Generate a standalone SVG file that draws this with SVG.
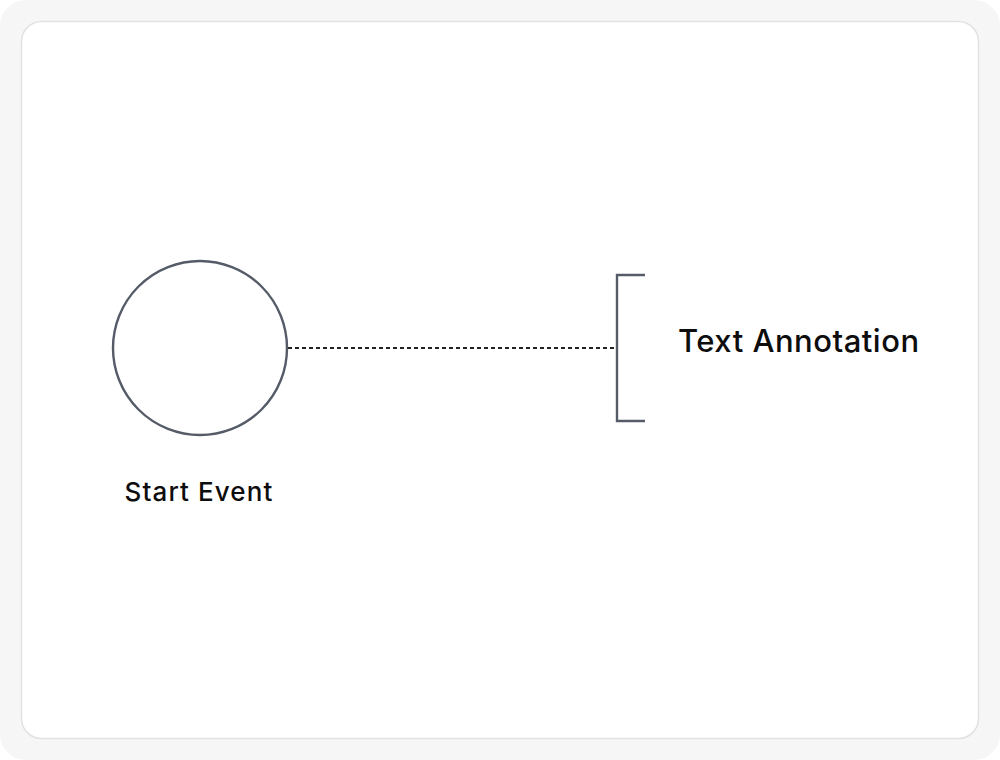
<svg xmlns="http://www.w3.org/2000/svg" width="1000" height="760" viewBox="0 0 1000 760">
<style>
.lbl{font-family:Inter,"Noto Sans","Liberation Sans",sans-serif;fill:#0d0d0d;font-weight:500;}
.shape{fill:none;stroke:#555c68;stroke-width:2.4;}
.conn{stroke:#222;stroke-width:2;stroke-dasharray:4 3;fill:none;}
</style>
<rect x="0" y="0" width="1000" height="760" fill="#ffffff"/>
<rect x="0" y="0" width="1000" height="760" rx="26" fill="#f6f6f6"/>
<rect x="21.5" y="21.5" width="957" height="717" rx="20" fill="#ffffff" stroke="#e2e2e2" stroke-width="1.5"/>
<g id="connectors">
<line class="conn" x1="288" y1="348" x2="616" y2="348"/>
</g>
<g id="start-event">
<circle class="shape" cx="200" cy="348" r="87"/>
<text class="lbl" x="199" y="501" font-size="26" letter-spacing="1.1" text-anchor="middle">Start Event</text>
</g>
<g id="text-annotation">
<path class="shape" d="M645,275 H617 V421 H645"/>
<text class="lbl" x="678" y="352" font-size="31" letter-spacing="0.5">Text Annotation</text>
</g>
</svg>
